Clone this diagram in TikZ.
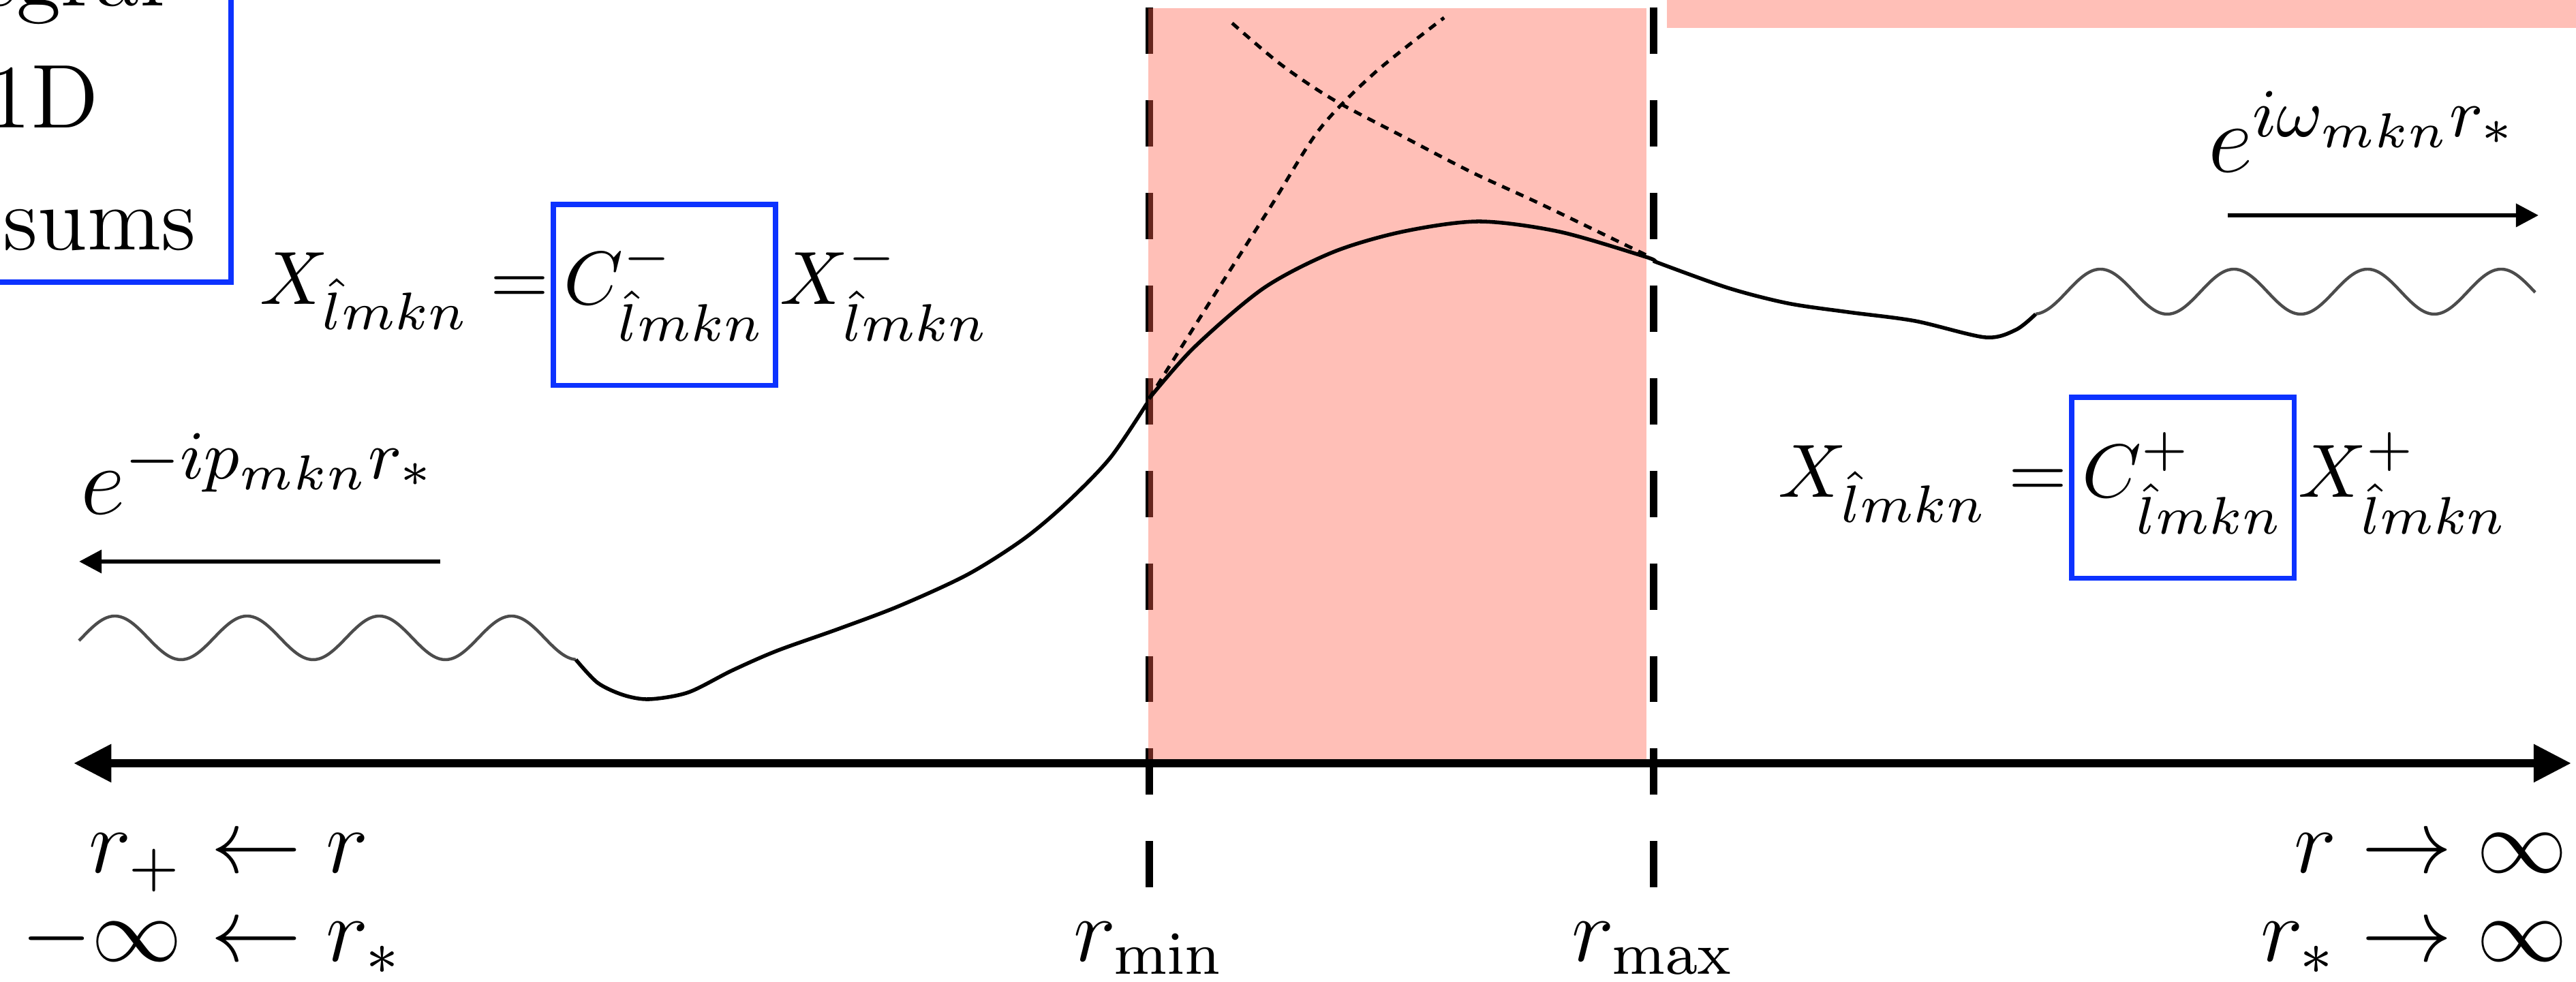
\documentclass[tikz,border=0pt]{standalone}
\usepackage{fix-cm}
\usetikzlibrary{arrows.meta,positioning}
\definecolor{boxblue}{RGB}{12,50,255}
\definecolor{regionred}{RGB}{255,95,75}

\begin{document}
\begin{tikzpicture}[x=0.3175cm, y=0.3175cm,
    every node/.style={inner sep=0pt, font=\large},
    axis/.style={line width=1.1pt, {Triangle[length=5pt,width=4.8pt]}-{Triangle[length=5pt,width=4.8pt]}},
    dirarrow/.style={line width=0.6pt, -{Triangle[length=3pt,width=3pt]}},
    bound/.style={line width=1pt, dash pattern=on 6.14pt off 6.14pt},
    region/.style={fill=regionred, fill opacity=0.4},
    wave/.style={black!70, line width=0.4pt},
    mode/.style={line width=0.5pt},
    asym/.style={line width=0.45pt, dash pattern=on 1.1pt off 0.9pt},
    eqn/.style={font=\fontsize{10}{12}\selectfont},
    expo/.style={font=\fontsize{13}{16}\selectfont},
    cbox/.style={eqn, draw=boxblue, line width=0.7pt, text height=13.3pt, text depth=10.7pt, inner xsep=1.4pt}]

    \clip (0,0) rectangle (37.8,14.41);

    % region between the turning points
    \draw[bound] (16.86,14.30) -- (16.86,1.38);
    \fill[region] (16.85,14.29) rectangle (24.16,3.24);
    \fill[region] (24.46,14.41) rectangle (37.8,14.00);
    \draw[bound] (24.26,14.30) -- (24.26,1.38);

    % box cut off at the corner
    \draw[boxblue, line width=0.7pt] (-1,15) rectangle (3.39,10.27);
    \node[anchor=base east] (egral) at (2.44,14.32) {egral};
    \node[anchor=base east] (oned) at (1.47,12.53) {1D};
    \node[anchor=base east] (sums) at (2.90,10.74) {sums};

    % axis
    \coordinate (minusinf) at (1.08,3.21);
    \coordinate (plusinf) at (37.73,3.21);
    \draw[axis] (minusinf) -- (plusinf);

    % waves
    \draw[wave] plot[domain=1.16:8.45, samples=150, smooth] (\x, {5.05+0.32*sin(360*(\x-1.20)/1.94)});
    \draw[wave] plot[domain=29.87:37.20, samples=150, smooth] (\x, {10.13+0.33*sin(360*(\x-30.33)/1.96)});

    % the mode function
    \draw[mode] plot[smooth] coordinates {(8.45,4.73) (8.77,4.39) (9.15,4.21) (9.53,4.15) (10.10,4.25)
        (10.74,4.57) (11.40,4.86) (12.30,5.18) (13.20,5.52) (14.20,5.98)
        (15.02,6.50) (15.65,7.03) (16.29,7.69) (16.83,8.49)};
    \draw[mode] plot[smooth] coordinates {(16.86,8.56) (17.52,9.31) (18.54,10.18) (19.56,10.71)
        (20.58,11.01) (21.70,11.16) (22.88,11.01) (24.15,10.64) (24.26,10.58)};
    \draw[mode] plot[smooth] coordinates {(24.26,10.58) (25.34,10.19) (26.23,9.96) (27.12,9.83)
        (28.10,9.70) (29.13,9.46) (29.58,9.57) (29.87,9.80)};

    % asymptotic pieces
    \draw[asym] plot[smooth] coordinates {(16.86,8.56) (17.78,10.02) (18.64,11.37) (19.36,12.51)
        (20.17,13.34) (21.19,14.15)};
    \draw[asym] plot[smooth] coordinates {(18.08,14.07) (18.80,13.46) (19.56,12.95) (20.58,12.41)
        (21.60,11.88) (22.62,11.41) (24.15,10.67)};

    % incoming and outgoing waves
    \node[expo, anchor=base west] (inwave) at (1.16,6.86) {$e^{-ip_{mkn}r_*}$};
    \coordinate (intail) at (6.46,6.17);
    \coordinate (inhead) at (1.16,6.17);
    \draw[dirarrow] (intail) -- (inhead);

    \node[expo, anchor=base west] (outwave) at (32.38,11.88) {$e^{i\omega_{mkn}r_*}$};
    \coordinate (outtail) at (32.69,11.25);
    \coordinate (outhead) at (37.25,11.25);
    \draw[dirarrow] (outtail) -- (outhead);

    % boundary conditions
    \node[eqn, anchor=base west] (xin) at (3.79,9.94) {$X_{\hat{l}mkn} =$};
    \node[cbox, anchor=base west] (cin) at (xin.base east) {$C^-_{\hat{l}mkn}$};
    \node[eqn, anchor=base west] (xinm) at (cin.base east) {$X^-_{\hat{l}mkn}$};

    \node[eqn, anchor=base west] (xup) at (26.07,7.11) {$X_{\hat{l}mkn} =$};
    \node[cbox, anchor=base west] (cup) at (xup.base east) {$C^+_{\hat{l}mkn}$};
    \node[eqn, anchor=base west] (xupp) at (cup.base east) {$X^+_{\hat{l}mkn}$};

    % limits along the axis
    \node[anchor=base east] (rplus) at (2.70,1.61) {$r_+$};
    \node[anchor=base west] (rplusl) at (rplus.base east) {${}\leftarrow r$};
    \node[anchor=base east] (minf) at (2.70,0.31) {$-\infty$};
    \node[anchor=base west] (minfl) at (minf.base east) {${}\leftarrow r_*$};
    \node[anchor=base east] (rinf) at (37.70,1.61) {$r \rightarrow \infty$};
    \node[anchor=base east] (rsinf) at (37.70,0.31) {$r_* \rightarrow \infty$};
    \node[anchor=base] (rmin) at (16.86,0.31) {$r_{\min}$};
    \node[anchor=base] (rmax) at (24.26,0.31) {$r_{\max}$};
\end{tikzpicture}
\end{document}
